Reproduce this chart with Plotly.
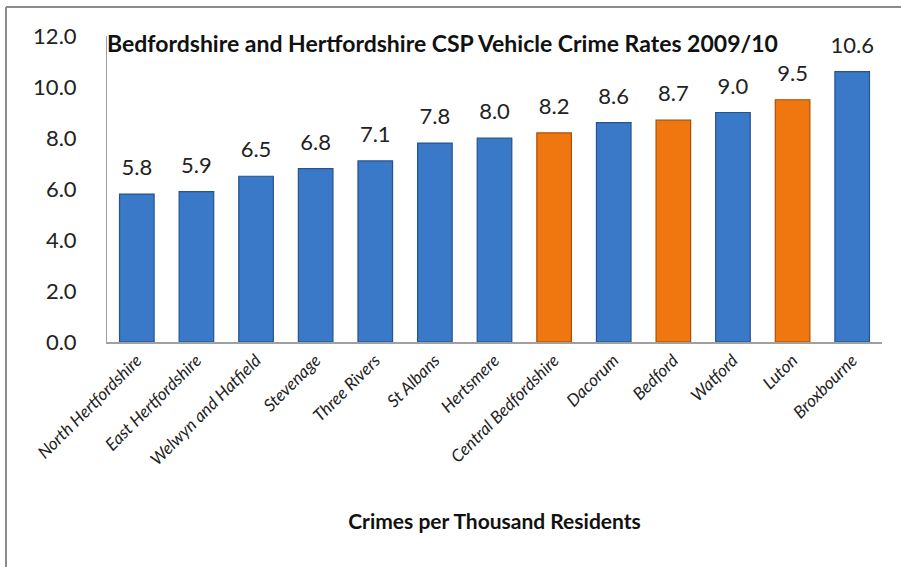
import plotly.graph_objects as go

categories = ["North Hertfordshire", "East Hertfordshire", "Welwyn and Hatfield", "Stevenage",
              "Three Rivers", "St Albans", "Hertsmere", "Central Bedfordshire", "Dacorum",
              "Bedford", "Watford", "Luton", "Broxbourne"]
values = [5.8, 5.9, 6.5, 6.8, 7.1, 7.8, 8.0, 8.2, 8.6, 8.7, 9.0, 9.5, 10.6]
force = ["Herts", "Herts", "Herts", "Herts", "Herts", "Herts", "Herts", "Beds", "Herts",
         "Beds", "Herts", "Beds", "Herts"]
fill = {"Herts": "#3A78C8", "Beds": "#F0760F"}
edge = {"Herts": "#26538F", "Beds": "#A84F08"}

FONT = "Lato, Open Sans, sans-serif"

fig = go.Figure()
fig.add_trace(go.Bar(
    x=categories, y=values,
    marker=dict(color=[fill[f] for f in force], line=dict(color=[edge[f] for f in force], width=1.2)),
    hoverinfo="x+y",
))
fig.add_trace(go.Scatter(
    x=categories, y=values, mode="text+markers",
    marker=dict(size=20, color="rgba(0,0,0,0)"),
    text=[f"{v:.1f}" for v in values], textposition="top center",
    textfont=dict(family=FONT, size=22, color="#222222"),
    cliponaxis=False, hoverinfo="skip",
))

fig.update_layout(
    width=901, height=567,
    margin=dict(l=107, r=19, t=36, b=225),
    paper_bgcolor="white", plot_bgcolor="white",
    bargap=0.42,
    showlegend=False,
    title=dict(text="<b>Bedfordshire and Hertfordshire CSP Vehicle Crime Rates 2009/10</b>",
               font=dict(family=FONT, size=23, color="#111111"),
               x=107/901, xanchor="left", y=1-44/567, yanchor="middle"),
    yaxis=dict(range=[0, 12], dtick=2, tickformat=".1f", showgrid=False, zeroline=False,
               showline=True, linecolor="#A0A0A0", linewidth=1, ticks="",
               ticklabelstandoff=25,
               tickfont=dict(family=FONT, size=22, color="#222222")),
    xaxis=dict(range=[-0.5, len(categories) - 0.5], showline=True, linecolor="#A0A0A0",
               linewidth=1.5, ticks="", tickangle=-45,
               tickfont=dict(family=FONT, size=17, color="#222222", style="italic"),
               title=dict(text="<b>Crimes per Thousand Residents</b>", standoff=46,
                          font=dict(family=FONT, size=21, color="#111111"))),
    shapes=[
        dict(type="line", xref="paper", yref="paper", x0=-101/775, x1=1+19/775, y0=1+29/306, y1=1+29/306,
             line=dict(color="#8C8C8C", width=2)),
        dict(type="line", xref="paper", yref="paper", x0=-101/775, x1=-101/775, y0=1+29/306, y1=-225/306,
             line=dict(color="#8C8C8C", width=2)),
    ],
)

fig.write_html("out.html")
